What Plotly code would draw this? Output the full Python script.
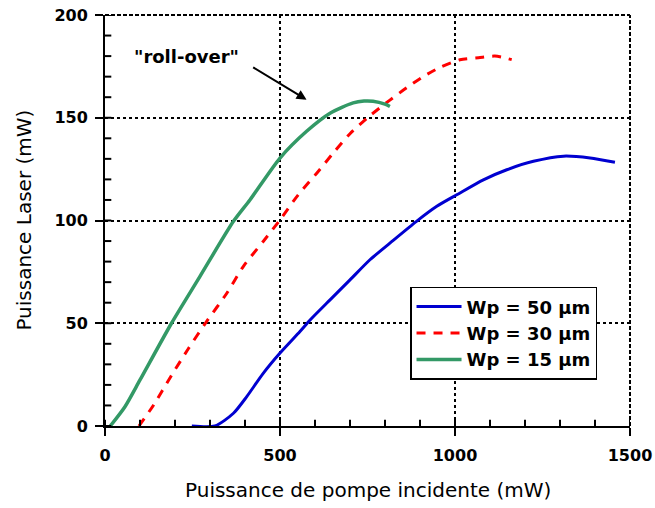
import plotly.graph_objects as go

# Incident pump power (mW) vs laser output power (mW) for three pump waists
x_wp50 = [248, 314, 367, 405, 452, 500, 557, 586, 643, 700, 757, 814, 890, 948,
          1005, 1081, 1148, 1224, 1310, 1386, 1457]
y_wp50 = [0, 0, 6.2, 14.3, 25.6, 35.5, 46, 51.6, 61.4, 71.1, 80.9, 89, 99.6, 106.9,
          112.5, 119.8, 124.7, 128.8, 131.3, 130.4, 128.3]

x_wp30 = [97, 138, 190, 238, 290, 348, 395, 452, 500, 552, 605, 652, 700, 757,
          814, 862, 910, 957, 1014, 1067, 1114, 1162]
y_wp30 = [0, 10, 24.6, 37.6, 50.8, 64.6, 77.6, 89.8, 100.3, 112.5, 123, 132.8, 142.2,
          151, 158.6, 164.6, 170.1, 174.5, 178.2, 179.2, 180, 178.3]

x_wp15 = [15, 57, 100, 190, 271, 367, 414, 500, 576, 643, 709, 740, 766, 800, 814]
y_wp15 = [0, 9.4, 22.4, 50, 72.7, 99.6, 110, 130.4, 143.4, 152.2, 157.2, 158.1, 158,
          156.6, 155.5]

series_names = ["Wp = 50 µm", "Wp = 30 µm", "Wp = 15 µm"]

x_title = "Puissance de pompe incidente (mW)"
y_title = "Puissance Laser (mW)"

x_minor_step = 100
y_minor_step = 10

FONT = "DejaVu Sans"

fig = go.Figure()
fig.add_trace(go.Scatter(x=x_wp50, y=y_wp50, mode="lines", name=series_names[0],
                         line=dict(color="#0000D0", width=3, shape="spline",
                                   smoothing=0.7)))
fig.add_trace(go.Scatter(x=x_wp30, y=y_wp30, mode="lines", name=series_names[1],
                         line=dict(color="#FF0000", width=3, dash="9px,8px",
                                   shape="spline", smoothing=0.7)))
fig.add_trace(go.Scatter(x=x_wp15, y=y_wp15, mode="lines", name=series_names[2],
                         line=dict(color="#339966", width=3.5, shape="spline",
                                   smoothing=0.7)))

axis_common = dict(
    showline=True, linecolor="black", linewidth=2,
    ticks="outside", ticklen=8, tickwidth=2, tickcolor="black",
    showgrid=True, gridcolor="black", gridwidth=1.5, griddash="dot",
    zeroline=False, automargin=False,
    tickfont=dict(family=FONT, size=16, color="black", weight="bold"),
)

fig.update_xaxes(range=[0, 1500], tickmode="linear", tick0=0, dtick=500,
                 ticklabelstandoff=6, **axis_common)
fig.update_yaxes(range=[0, 200], tickmode="linear", tick0=0, dtick=50,
                 ticklabelstandoff=4, **axis_common)

# short inward ticks along the bottom and left axis lines
tick_style = dict(color="black", width=2)
for v in range(0, 1501, x_minor_step):
    fig.add_shape(type="line", xref="x", yref="paper", x0=v, x1=v, y0=0, y1=0.015,
                  line=tick_style, layer="above")
for v in range(0, 201, y_minor_step):
    fig.add_shape(type="line", xref="paper", yref="y", x0=0, x1=0.012, y0=v, y1=v,
                  line=tick_style, layer="above")

# dashed frame on the top and right sides of the plotting area
fig.add_shape(type="line", xref="paper", yref="paper", x0=0, x1=1, y0=1, y1=1,
              line=dict(color="black", width=2, dash="4px,2px"))
fig.add_shape(type="line", xref="paper", yref="paper", x0=1, x1=1, y0=0, y1=1,
              line=dict(color="black", width=2, dash="4px,2px"))

# axis titles
fig.add_annotation(xref="paper", yref="paper", x=0.5, y=-0.155, yanchor="middle",
                   text=x_title, showarrow=False,
                   font=dict(family=FONT, size=20, color="black"))
fig.add_annotation(xref="paper", yref="paper", x=-0.156, y=0.5, xanchor="center",
                   yanchor="middle", textangle=-90, text=y_title, showarrow=False,
                   font=dict(family=FONT, size=20, color="black"))

# roll-over label and arrow
fig.add_annotation(x=576, y=158.8, ax=419, ay=175, xref="x", yref="y",
                   axref="x", ayref="y", text="", showarrow=True,
                   arrowhead=2, arrowsize=1, arrowwidth=2, arrowcolor="black")
fig.add_annotation(x=233, y=180, xref="x", yref="y", text="\"roll-over\"",
                   showarrow=False,
                   font=dict(family=FONT, size=18, color="black", weight="bold"))

fig.update_layout(
    width=655, height=508,
    margin=dict(l=105, r=25, t=15, b=82, autoexpand=False),
    paper_bgcolor="white", plot_bgcolor="white",
    showlegend=True,
    legend=dict(x=0.581, y=0.3385, xanchor="left", yanchor="top",
                bgcolor="white", bordercolor="black", borderwidth=1.5,
                font=dict(family=FONT, size=18, color="black", weight="bold"),
                itemwidth=45, tracegroupgap=0),
)

fig.write_html("out.html")
